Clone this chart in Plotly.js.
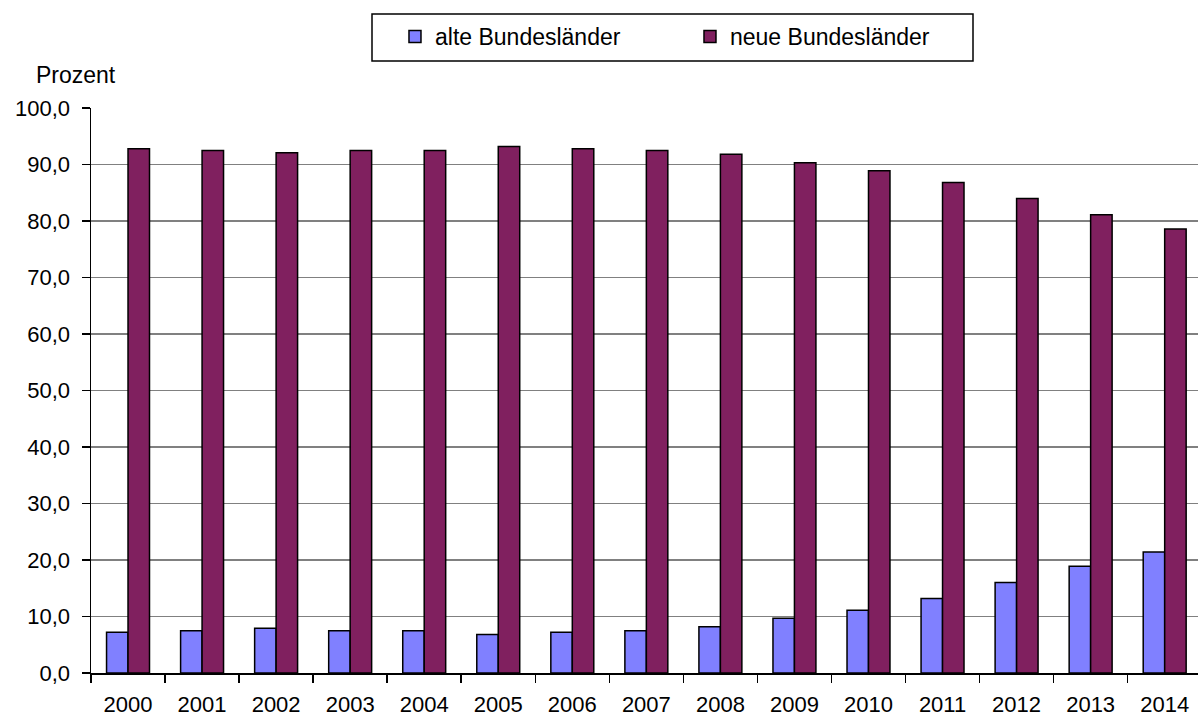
<!DOCTYPE html>
<html>
<head>
<meta charset="utf-8">
<script src="https://cdn.plot.ly/plotly-3.0.1.min.js"></script>
<style>html,body{margin:0;padding:0;background:#fff;}#chart{width:1198px;height:719px;}</style>
</head>
<body>
<div id="chart"></div>
<script>
const years = ["2000","2001","2002","2003","2004","2005","2006","2007","2008","2009","2010","2011","2012","2013","2014"];
const alteBundeslaender = [7.2, 7.5, 7.9, 7.5, 7.5, 6.8, 7.2, 7.5, 8.2, 9.7, 11.1, 13.2, 16.0, 18.9, 21.4];
const neueBundeslaender = [92.8, 92.5, 92.1, 92.5, 92.5, 93.2, 92.8, 92.5, 91.8, 90.3, 88.9, 86.8, 84.0, 81.1, 78.6];
const seriesNames = ["alte Bundesländer", "neue Bundesländer"];
const yTicks = [0,10,20,30,40,50,60,70,80,90,100];

const font = "Liberation Sans, Arial, sans-serif";
const traces = [
  {type:"bar", name:seriesNames[0], x:years, y:alteBundeslaender,
   marker:{color:"#8080FF", line:{color:"#000000", width:1.5}}},
  {type:"bar", name:seriesNames[1], x:years, y:neueBundeslaender,
   marker:{color:"#80205F", line:{color:"#000000", width:1.5}}}
];
const layout = {
  width:1198, height:719,
  margin:{l:91, r:0, t:108, b:46, pad:0},
  paper_bgcolor:"#ffffff", plot_bgcolor:"#ffffff",
  font:{family:font, size:22, color:"#000000"},
  separators:",.",
  barmode:"group", bargap:0.42, bargroupgap:0,
  showlegend:true,
  legend:{orientation:"h", x:0.2746, xanchor:"left", y:1.1266, yanchor:"middle",
          bgcolor:"rgba(0,0,0,0)", borderwidth:0, font:{family:font, size:23, color:"#000"},
          entrywidth:250, entrywidthmode:"pixels", itemwidth:30, traceorder:"normal"},
  xaxis:{type:"category", range:[-0.5, 14.45], showline:true, linecolor:"#000", linewidth:1.5,
         ticks:"outside", tickson:"boundaries", ticklen:8, tickwidth:1.5, tickcolor:"#000",
         showgrid:false, zeroline:false, tickfont:{family:font, size:22, color:"#000"},
         ticklabelstandoff:11, fixedrange:true},
  yaxis:{range:[0,100], tickvals:yTicks, tickformat:".1f", showline:true, linecolor:"#000", linewidth:1.5,
         ticks:"outside", ticklen:8, tickwidth:1.5, tickcolor:"#000",
         showgrid:true, gridcolor:"#808080", gridwidth:1.5, zeroline:false,
         tickfont:{family:font, size:22, color:"#000"}, ticklabelstandoff:7, fixedrange:true},
  shapes:[{type:"rect", xref:"paper", yref:"paper",
           x0:(372-91)/1107, x1:(973-91)/1107, y0:1+(108-61)/565, y1:1+(108-14)/565,
           line:{color:"#000", width:1.5}, fillcolor:"rgba(0,0,0,0)"}],
  annotations:[{text:"Prozent", xref:"paper", yref:"paper", x:(34-91)/1107, y:1+(108-75)/565,
                xanchor:"left", yanchor:"middle", showarrow:false, font:{family:font, size:23, color:"#000"}}]
};
Plotly.newPlot("chart", traces, layout, {staticPlot:true, displayModeBar:false});
</script>
</body>
</html>
